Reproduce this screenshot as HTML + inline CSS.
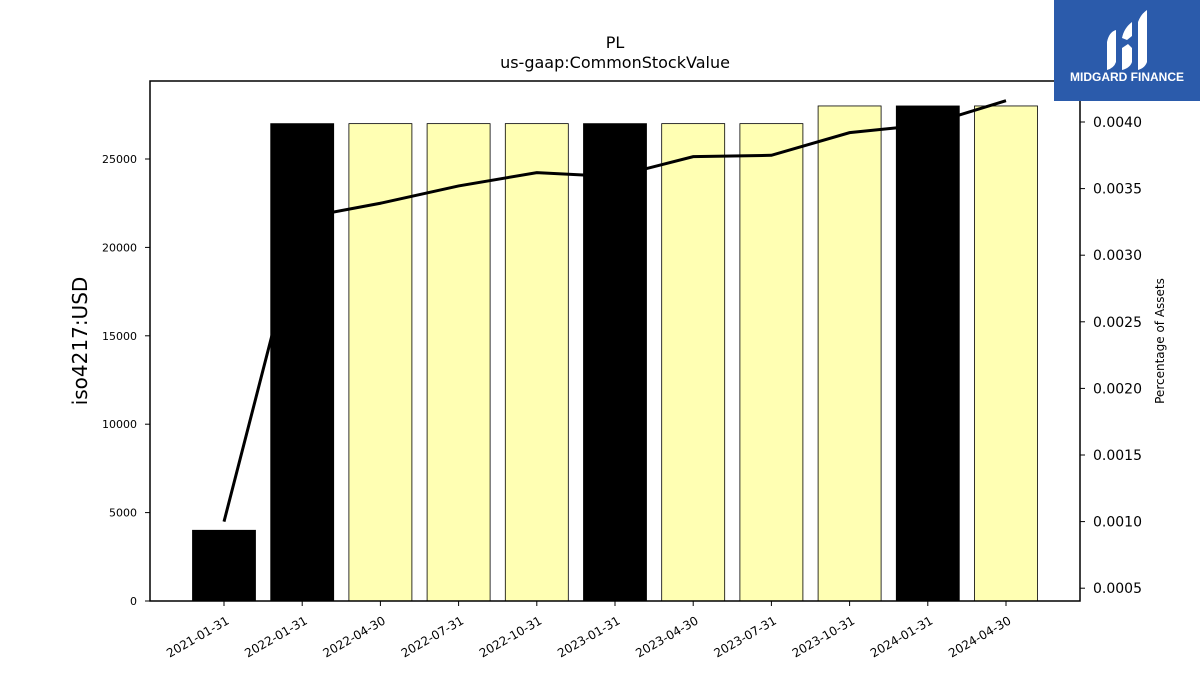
<!DOCTYPE html>
<html><head><meta charset="utf-8"><style>
body{margin:0;background:#fff;width:1200px;height:675px;overflow:hidden;font-family:"Liberation Sans","DejaVu Sans",sans-serif}
</style></head><body>
<svg id="chart" width="1200" height="675" xmlns="http://www.w3.org/2000/svg" font-family="DejaVu Sans, Liberation Sans, sans-serif">
<text x="615" y="48" text-anchor="middle" font-size="16">PL</text>
<text x="615" y="68" text-anchor="middle" font-size="16">us-gaap:CommonStockValue</text>
<g id="bars"></g><g id="line"></g><g id="axes"></g>
<rect x="150" y="81" width="930" height="520" fill="none" stroke="#000" stroke-width="1.5"/>
<text transform="translate(87,341) rotate(-90)" text-anchor="middle" font-size="20">iso4217:USD</text>
<text transform="translate(1164,341) rotate(-90)" text-anchor="middle" font-size="12">Percentage of Assets</text>
<g>
<rect x="1054" y="0" width="146" height="101" fill="#2b5bab"/>
<path d="M1107 70 L1107 42 Q1109 32 1116 30 L1116 62 Q1114 68 1107 70Z M1122 70 L1122 48 L1128 44 L1132 48 L1132 62 Q1130 68 1122 70Z M1122 38 Q1124 28 1132 22 L1132 36 L1127 40Z M1138 70 L1138 22 Q1141 14 1147 10 L1147 62 Q1145 68 1138 70Z" fill="#fff"/>
<text x="1127" y="81" text-anchor="middle" font-size="12" font-weight="bold" fill="#fff" font-family="Liberation Sans, sans-serif">MIDGARD FINANCE</text>
</g>
</svg>
<script>
const categories=["2021-01-31","2022-01-31","2022-04-30","2022-07-31","2022-10-31","2023-01-31","2023-04-30","2023-07-31","2023-10-31","2024-01-31","2024-04-30"];
const barValues=[4000,27000,27000,27000,27000,27000,27000,27000,28000,28000,28000];
const annual=[true,true,false,false,false,true,false,false,false,true,false];
const pctValues=[0.0010,0.00328,0.00339,0.00352,0.00362,0.00359,0.00374,0.00375,0.00392,0.00398,0.00416];
const yTicks=[0,5000,10000,15000,20000,25000];
const y2Ticks=[0.0005,0.0010,0.0015,0.0020,0.0025,0.0030,0.0035,0.0040];
const NS="http://www.w3.org/2000/svg";
const L=150,R=1080,T=81,B=601;
const x=i=>L+74+i*((R-L-148)/(categories.length-1));
const y=v=>B-v*(442/25000);
const y2=v=>122+(0.0040-v)*133200;
function mk(t,a,p){const e=document.createElementNS(NS,t);for(const k in a)e.setAttribute(k,a[k]);p.appendChild(e);return e;}
const bars=document.getElementById('bars'),line=document.getElementById('line'),axes=document.getElementById('axes');
barValues.forEach((v,i)=>{
 const r=mk('rect',{x:x(i)-31.5,y:y(v),width:63,height:B-y(v),fill:annual[i]?'#000':'#ffffb3',stroke:'#000','stroke-width':0.8},bars);
 
 
 mk('line',{x1:x(i),x2:x(i),y1:B,y2:B+5,stroke:'#000'},axes);
 const t=mk('text',{transform:`translate(${x(i)+6},${B+22}) rotate(-30)`,'text-anchor':'end','font-size':12},axes);
 t.textContent=categories[i];
 
 
});
const p=mk('polyline',{points:pctValues.map((v,i)=>x(i)+','+y2(v)).join(' '),fill:'none',stroke:'#000','stroke-width':3},line);


yTicks.forEach(v=>{
 mk('line',{x1:L-5,x2:L,y1:y(v),y2:y(v),stroke:'#000'},axes);
 const t=mk('text',{x:L-13,y:y(v)+4,'text-anchor':'end','font-size':11},axes);
 t.textContent=v;
 
 
});
y2Ticks.forEach(v=>{
 mk('line',{x1:R,x2:R+5,y1:y2(v),y2:y2(v),stroke:'#000'},axes);
 const t=mk('text',{x:R+13,y:y2(v)+5,'font-size':14},axes);
 t.textContent=v.toFixed(4);
 
 
});
</script>
</body></html>
